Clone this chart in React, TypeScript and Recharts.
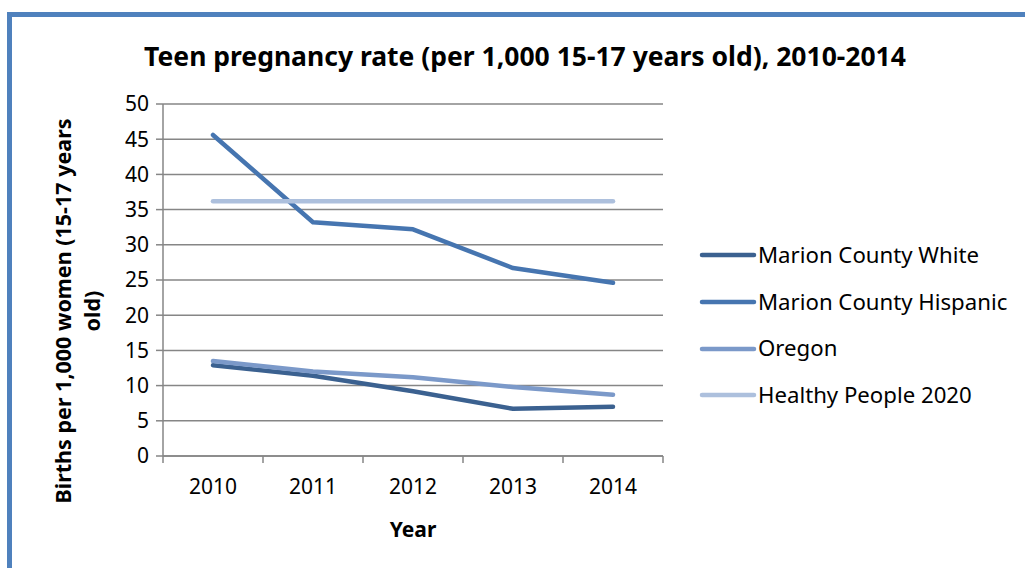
import React from "react";
import { LineChart, Line, XAxis, YAxis, CartesianGrid } from "recharts";

const years = [2010, 2011, 2012, 2013, 2014];
const whiteValues = [12.9, 11.4, 9.2, 6.7, 7.0];
const hispanicValues = [45.6, 33.2, 32.2, 26.7, 24.6];
const oregonValues = [13.5, 12.0, 11.2, 9.8, 8.7];
const healthyValues = [36.2, 36.2, 36.2, 36.2, 36.2];
const yTicks = [0, 5, 10, 15, 20, 25, 30, 35, 40, 45, 50];
const boundaryTicks = [2009.5, 2010.5, 2011.5, 2012.5, 2013.5, 2014.5];

const seriesKeys = ["white", "hispanic", "oregon", "healthy"];
const seriesNames = ["Marion County White", "Marion County Hispanic", "Oregon", "Healthy People 2020"];
const seriesColors = ["#3b6190", "#4675b0", "#7b99c9", "#adc0dd"];

const data = years.map((y, i) => ({
  year: y,
  white: whiteValues[i],
  hispanic: hispanicValues[i],
  oregon: oregonValues[i],
  healthy: healthyValues[i],
}));

const FONT = "'Noto Sans', 'Open Sans', sans-serif";

const YLabel = (props: any) => {
  const vb = props.viewBox || {};
  const cy = vb.y + vb.height / 2 + 31;
  const x1 = 71;
  const x2 = 100;
  return (
    <g>
      <text x={x1} y={cy} transform={`rotate(-90 ${x1} ${cy})`} textAnchor="middle" fontFamily={FONT} fontWeight="bold" fontSize={21.5} fill="#000">
        Births per 1,000 women (15-17 years
      </text>
      <text x={x2} y={cy} transform={`rotate(-90 ${x2} ${cy})`} textAnchor="middle" fontFamily={FONT} fontWeight="bold" fontSize={21.5} fill="#000">
        old)
      </text>
    </g>
  );
};

export default function App() {
  return (
    <div style={{ position: "absolute", left: 0, top: 0, width: 1025, height: 568, background: "#fff", overflow: "hidden" }}>
      <div
        style={{
          position: "absolute",
          left: 7,
          top: 12,
          width: 1100,
          height: 700,
          border: "5px solid #4f81bd",
          boxSizing: "border-box",
        }}
      />
      <div
        style={{
          position: "absolute",
          left: 0,
          top: 38,
          width: 1050,
          textAlign: "center",
          fontFamily: FONT,
          fontWeight: "bold",
          fontSize: 26.5,
          color: "#000",
          whiteSpace: "nowrap",
        }}
      >
        Teen pregnancy rate (per 1,000 15-17 years old), 2010-2014
      </div>
      <div style={{ position: "absolute", left: 0, top: 0 }}>
        <LineChart width={1025} height={568} data={data} margin={{ top: 104, right: 362, bottom: 81, left: 0 }}>
          <CartesianGrid horizontal vertical={false} stroke="#868686" strokeWidth={1.5} yAxisId="y" xAxisId="a" />
          <XAxis
            xAxisId="a"
            dataKey="year"
            type="number"
            domain={[2009.5, 2014.5]}
            ticks={boundaryTicks}
            interval={0}
            tick={() => <g />}
            tickLine={{ stroke: "#868686", strokeWidth: 1.5 }}
            axisLine={{ stroke: "#868686", strokeWidth: 1.5 }}
            tickSize={7}
            height={1}
            allowDataOverflow
          />
          <XAxis
            xAxisId="b"
            dataKey="year"
            type="number"
            domain={[2009.5, 2014.5]}
            ticks={years}
            interval={0}
            tickLine={false}
            axisLine={false}
            tickSize={0}
            tickMargin={22}
            height={30}
            tick={{ fontFamily: FONT, fontSize: 21, fill: "#000" }}
            tickFormatter={(v: number) => String(v)}
            label={{ value: "Year", position: "insideBottom", offset: -50, fontFamily: FONT, fontWeight: "bold", fontSize: 21, fill: "#000" }}
            allowDataOverflow
          />
          <YAxis
            yAxisId="y"
            width={163}
            domain={[0, 50]}
            ticks={yTicks}
            interval={0}
            tickSize={7}
            tickMargin={7}
            tickLine={{ stroke: "#868686", strokeWidth: 1.5 }}
            axisLine={{ stroke: "#868686", strokeWidth: 1.5 }}
            tick={{ fontFamily: FONT, fontSize: 21, fill: "#000" }}
            label={<YLabel />}
          />
          {seriesKeys.map((k, i) => (
            <Line
              key={k}
              xAxisId="b"
              yAxisId="y"
              type="linear"
              dataKey={k}
              name={seriesNames[i]}
              stroke={seriesColors[i]}
              strokeWidth={4.5}
              strokeLinecap="round"
              strokeLinejoin="round"
              dot={false}
              isAnimationActive={false}
            />
          ))}
        </LineChart>
      </div>
      <div style={{ position: "absolute", left: 699, top: 232, fontFamily: FONT, fontSize: 22.2, color: "#000" }}>
        {seriesNames.map((name, i) => (
          <div key={name} style={{ display: "flex", alignItems: "center", height: 46.7 }}>
            <svg width={58} height={10} style={{ display: "block" }}>
              <line x1={3} y1={5} x2={55} y2={5} stroke={seriesColors[i]} strokeWidth={4.5} strokeLinecap="round" />
            </svg>
            <span style={{ marginLeft: 1, whiteSpace: "nowrap", lineHeight: "46.7px" }}>{name}</span>
          </div>
        ))}
      </div>
    </div>
  );
}
